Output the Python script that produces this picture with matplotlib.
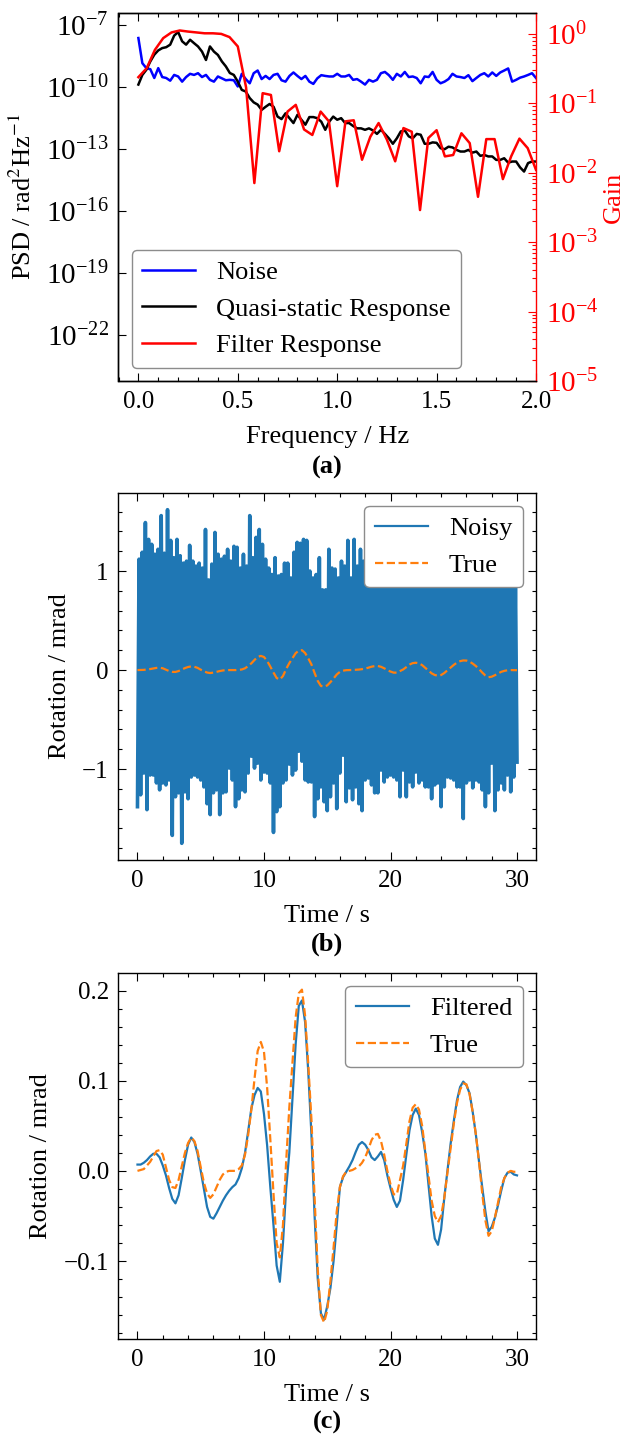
import matplotlib

matplotlib.use("Agg")
import matplotlib.pyplot as plt  # noqa: E402
import numpy as np  # noqa: E402
from matplotlib.ticker import NullLocator  # noqa: E402

# ---- (a) PSD / gain ----
freq_psd = np.round(np.arange(0, 101) * 0.02, 2)  # 0.00 .. 2.00 Hz
psd_noise = [
    2.3e-8, 1.4e-9, 8.1e-10, 7.2e-10, 2.7e-10, 8.1e-10, 3.0e-10, 2.7e-10, 2.0e-10, 3.8e-10,
    3.2e-10, 1.8e-10, 3.0e-10, 4.3e-10, 3.8e-10, 4.6e-10, 3.0e-10, 3.8e-10, 2.2e-10, 1.8e-10,
    3.2e-10, 2.6e-10, 2.1e-10, 2.2e-10, 2.1e-10, 1.05e-10, 4.3e-10, 2.4e-10, 1.5e-10, 4.6e-10,
    6.2e-10, 2.4e-10, 3.4e-10, 2.4e-10, 3.8e-10, 4.3e-10, 2.1e-10, 1.8e-10, 3.4e-10, 5.0e-10,
    3.4e-10, 2.4e-10, 3.4e-10, 1.8e-10, 1.4e-10, 2.6e-10, 3.7e-10, 3.4e-10, 3.2e-10, 3.2e-10,
    4.3e-10, 3.2e-10, 3.2e-10, 3.8e-10, 2.2e-10, 2.4e-10, 1.8e-10, 1.3e-10, 2.2e-10, 1.8e-10,
    2.2e-10, 4.6e-10, 5.3e-10, 3.7e-10, 2.2e-10, 4.3e-10, 3.2e-10, 5.3e-10, 3.0e-10, 3.2e-10,
    2.7e-10, 1.5e-10, 3.2e-10, 3.0e-10, 5.3e-10, 2.2e-10, 1.5e-10, 1.8e-10, 2.4e-10, 4.3e-10,
    3.2e-10, 3.0e-10, 2.7e-10, 3.7e-10, 1.9e-10, 2.7e-10, 3.8e-10, 4.6e-10, 3.2e-10, 5.0e-10,
    3.4e-10, 5.0e-10, 6.2e-10, 7.8e-10, 1.8e-10, 2.2e-10, 2.8e-10, 3.2e-10, 3.8e-10, 4.6e-10,
    2.7e-10,
]
psd_quasi = [
    1.3e-10, 3.8e-10, 6.7e-10, 1.7e-9, 3.6e-9, 5.8e-9, 7.5e-9, 8.3e-9, 1.1e-8, 3.0e-8,
    4.5e-8, 1.6e-8, 1.1e-8, 1.9e-8, 1.3e-8, 9.0e-9, 5.1e-9, 2.0e-9, 9.0e-9, 5.1e-9,
    3.5e-9, 1.7e-9, 9.8e-10, 4.7e-10, 3.8e-10, 1.8e-10, 7.2e-11, 6.0e-11, 2.9e-11, 1.8e-11,
    1.4e-11, 7.8e-12, 1.1e-11, 1.5e-11, 1.1e-11, 3.7e-12, 2.8e-12, 5.3e-12, 3.1e-12, 1.8e-12,
    4.5e-12, 2.6e-12, 1.5e-12, 3.5e-12, 3.5e-12, 3.1e-12, 2.1e-12, 8.5e-13, 2.1e-12, 3.7e-12,
    2.6e-12, 3.1e-12, 1.8e-12, 1.8e-12, 1.3e-12, 1.0e-12, 1.0e-12, 8.5e-13, 1.0e-12, 7.9e-13,
    5.4e-13, 8.5e-13, 5.4e-13, 3.3e-13, 1.8e-13, 3.3e-13, 7.1e-13, 7.9e-13, 4.1e-13, 3.3e-13,
    5.4e-13, 4.9e-13, 1.8e-13, 1.8e-13, 2.1e-13, 2.0e-13, 1.1e-13, 9.8e-14, 1.3e-13, 1.2e-13,
    9.1e-14, 7.6e-14, 7.6e-14, 9.1e-14, 6.7e-14, 7.6e-14, 4.7e-14, 5.2e-14, 4.4e-14, 4.4e-14,
    3.0e-14, 3.0e-14, 3.6e-14, 2.2e-14, 2.5e-14, 2.5e-14, 1.3e-14, 8.2e-15, 2.1e-14, 2.5e-14,
    2.5e-14,
]
freq_gain = np.arange(49) / 24.0  # 1/24 Hz resolution
gain = [
    0.238, 0.32, 0.59, 0.87, 1.05, 1.12, 1.08, 1.05, 1.02, 1.02,
    1.0, 0.90, 0.66, 0.17, 0.0071, 0.14, 0.132, 0.0204, 0.076, 0.095,
    0.042, 0.035, 0.076, 0.055, 0.0064, 0.055, 0.057, 0.0154, 0.033, 0.052,
    0.030, 0.0146, 0.044, 0.039, 0.0029, 0.0316, 0.041, 0.0172, 0.018, 0.037,
    0.0267, 0.0045, 0.0305, 0.0305, 0.0081, 0.0172, 0.031, 0.0226, 0.011,
]

# ---- (b) noisy record: successive upper / lower extrema of the trace ----
noisy_up = [  # t = 0.125, 0.375, ... 29.875 s
    1.12, 1.19, 1.49, 1.32, 1.27, 1.17, 1.22, 1.56, 1.18, 1.62,
    1.31, 1.135, 1.32, 1.155, 1.08, 1.10, 1.26, 1.10, 1.05, 1.08,
    1.03, 1.42, 0.91, 1.07, 1.39, 1.17, 1.12, 1.15, 1.22, 1.10,
    1.25, 1.24, 1.03, 1.17, 1.05, 1.56, 1.135, 1.34, 1.42, 1.27,
    1.12, 1.03, 0.965, 1.135, 0.95, 0.965, 1.08, 1.08, 0.93, 1.19,
    1.29, 1.28, 1.32, 1.31, 1.00, 0.93, 0.965, 1.135, 0.81, 0.81,
    1.22, 1.03, 1.02, 0.93, 1.10, 1.05, 1.31, 0.93, 1.32, 1.05,
    1.22, 1.10, 1.25, 1.05, 1.18, 1.32, 1.08, 1.12, 1.40, 1.02,
    1.15, 1.22, 1.06, 1.30, 1.10, 1.04, 1.18, 1.45, 1.12, 1.08,
    1.20, 1.03, 1.26, 1.10, 1.15, 1.35, 1.05, 1.12, 1.22, 1.08,
    1.30, 1.12, 1.02, 1.18, 1.25, 1.06, 1.14, 1.38, 1.10, 1.05,
    1.20, 1.12, 1.28, 1.04, 1.16, 1.10, 1.22, 1.06, 1.15, 0.95,
]
noisy_down = [  # t = 0, 0.25, ... 30 s
    -1.38, -1.26, -1.04, -1.41, -1.06, -1.06, -1.14, -1.21, -1.14, -1.16,
    -1.11, -1.67, -1.28, -1.24, -1.75, -1.23, -1.30, -1.08, -1.06, -1.08,
    -1.11, -1.18, -1.35, -1.46, -1.24, -1.21, -1.46, -1.24, -1.23, -0.99,
    -1.11, -1.38, -1.30, -1.21, -1.23, -1.04, -0.87, -0.99, -0.94, -1.11,
    -1.03, -1.04, -1.14, -1.64, -1.43, -1.38, -1.14, -1.11, -0.95, -1.06,
    -1.01, -0.82, -0.92, -1.11, -1.13, -1.13, -1.48, -1.30, -1.18, -1.33,
    -1.42, -1.28, -1.14, -1.40, -1.04, -0.86, -1.33, -1.19, -1.31, -1.18,
    -1.35, -1.42, -1.11, -1.09, -1.16, -1.24, -1.24, -1.01, -1.13, -1.08,
    -1.06, -1.08, -1.11, -1.28, -1.01, -1.28, -1.13, -1.18, -1.03, -1.14,
    -1.11, -1.18, -1.18, -1.30, -1.16, -1.14, -1.38, -1.18, -1.08, -1.09,
    -1.11, -1.18, -1.18, -1.50, -1.14, -1.11, -1.19, -1.11, -1.13, -1.21,
    -1.38, -1.24, -0.94, -1.42, -1.21, -1.14, -1.21, -1.06, -1.23, -1.08,
    -0.93,
]

# ---- (b)/(c) true and filtered rotation, 0.25 s steps ----
time = np.arange(121) * 0.25
rot_true = [
    0.000, 0.001, 0.002, 0.006, 0.010, 0.016, 0.022, 0.023, 0.018, 0.004,
    -0.010, -0.018, -0.019, -0.010, 0.005, 0.020, 0.031, 0.037, 0.033, 0.022,
    0.004, -0.013, -0.025, -0.030, -0.026, -0.018, -0.010, -0.004, -0.001, 0.000,
    0.000, 0.000, 0.002, 0.006, 0.018, 0.040, 0.068, 0.102, 0.133, 0.143,
    0.132, 0.092, 0.035, -0.025, -0.080, -0.096, -0.060, 0.010, 0.070, 0.120,
    0.170, 0.197, 0.201, 0.172, 0.118, 0.057, -0.030, -0.110, -0.160, -0.168,
    -0.155, -0.122, -0.085, -0.045, -0.018, -0.006, -0.001, 0.000, 0.001, 0.003,
    0.005, 0.009, 0.015, 0.024, 0.034, 0.040, 0.041, 0.033, 0.018, 0.000,
    -0.015, -0.026, -0.026, -0.010, 0.006, 0.030, 0.055, 0.070, 0.074, 0.068,
    0.050, 0.022, -0.005, -0.033, -0.050, -0.057, -0.050, -0.030, -0.002, 0.025,
    0.052, 0.075, 0.090, 0.097, 0.096, 0.085, 0.065, 0.040, 0.010, -0.025,
    -0.055, -0.072, -0.067, -0.052, -0.035, -0.018, -0.008, -0.002, 0.000, -0.001,
    -0.001,
]
rot_filtered = [
    0.007, 0.007, 0.009, 0.012, 0.016, 0.019, 0.019, 0.015, 0.006, -0.005,
    -0.019, -0.031, -0.036, -0.027, -0.008, 0.012, 0.029, 0.037, 0.032, 0.019,
    0.000, -0.020, -0.040, -0.051, -0.053, -0.047, -0.040, -0.033, -0.027, -0.022,
    -0.018, -0.015, -0.008, 0.003, 0.020, 0.044, 0.069, 0.084, 0.092, 0.088,
    0.063, 0.028, -0.018, -0.060, -0.105, -0.123, -0.080, -0.020, 0.020, 0.080,
    0.140, 0.183, 0.189, 0.165, 0.110, 0.040, -0.050, -0.120, -0.158, -0.165,
    -0.150, -0.130, -0.100, -0.060, -0.018, -0.007, -0.001, 0.005, 0.012, 0.021,
    0.029, 0.032, 0.029, 0.023, 0.015, 0.012, 0.016, 0.021, 0.012, -0.005,
    -0.019, -0.032, -0.040, -0.033, -0.010, 0.018, 0.045, 0.062, 0.069, 0.062,
    0.043, 0.020, -0.015, -0.050, -0.075, -0.082, -0.065, -0.030, 0.000, 0.030,
    0.055, 0.078, 0.093, 0.099, 0.095, 0.086, 0.065, 0.040, 0.010, -0.018,
    -0.045, -0.067, -0.062, -0.052, -0.038, -0.022, -0.008, -0.002, -0.001, -0.004,
    -0.005,
]

plt.rcParams.update({
    "font.family": "serif",
    "font.serif": ["Liberation Serif", "DejaVu Serif"],
    "mathtext.fontset": "stix",
    "font.size": 18,
    "axes.labelsize": 19,
    "legend.fontsize": 19,
    "xtick.labelsize": 18,
    "ytick.labelsize": 18,
    "xtick.direction": "in",
    "ytick.direction": "in",
    "xtick.top": True,
    "ytick.right": True,
    "xtick.minor.visible": True,
    "ytick.minor.visible": True,
    "xtick.major.size": 5.5,
    "ytick.major.size": 5.5,
    "xtick.minor.size": 3.0,
    "ytick.minor.size": 3.0,
    "xtick.major.width": 0.8,
    "ytick.major.width": 0.8,
    "xtick.minor.width": 0.8,
    "ytick.minor.width": 0.8,
    "xtick.major.pad": 7,
    "ytick.major.pad": 7,
    "xtick.minor.pad": 7,
    "ytick.minor.pad": 7,
    "axes.linewidth": 1.0,
    "legend.edgecolor": "0.55",
    "legend.framealpha": 1.0,
})

W, H = 627, 1434
fig = plt.figure(figsize=(W / 100, H / 100), dpi=100)


def axes_px(left, top, right, bottom):
    return fig.add_axes([left / W, 1 - bottom / H, (right - left) / W, (bottom - top) / H])


ax_a = axes_px(118.5, 13, 536, 381)
ax_b = axes_px(118.5, 493, 536, 860)
ax_c = axes_px(118.5, 973, 536, 1339)

# (a)
l1, = ax_a.plot(freq_psd, psd_noise, color="blue", lw=1.8, label="Noise")
l2, = ax_a.plot(freq_psd, psd_quasi, color="black", lw=1.8, label="Quasi-static Response")
ax_a.set_yscale("log")
ax_a.set_xlim(-0.1, 2.0)
ax_a.set_ylim(10 ** -24.2, 10 ** -6.43)
ax_a.set_yticks([1e-22, 1e-19, 1e-16, 1e-13, 1e-10, 1e-7])
ax_a.yaxis.set_minor_locator(NullLocator())
ax_a.tick_params(which="both", right=False)
ax_a.tick_params(axis="y", labelsize=21)
ax_a.spines["right"].set_visible(False)
ax_a.set_xlabel("Frequency / Hz", labelpad=9.5)
ax_a.set_ylabel("PSD / rad$^2$Hz$^{-1}$", labelpad=7)

tw = ax_a.twinx()
l3, = tw.plot(freq_gain, gain, color="red", lw=1.8, label="Filter Response")
tw.set_yscale("log")
tw.set_ylim(1e-5, 2.0)
tw.set_xlim(-0.1, 2.0)
tw.tick_params(axis="y", which="both", colors="red", direction="in", left=False,
               labelsize=21)
tw.tick_params(axis="x", which="both", top=False, bottom=False)
tw.spines["right"].set_color("red")
tw.set_ylabel("Gain", color="red", labelpad=3)
tw.legend(handles=[l1, l2, l3], loc="lower left", fancybox=True)

# (b)
t_noisy = np.arange(241) * 0.125
noisy = np.empty(241)
noisy[0::2] = noisy_down
noisy[1::2] = noisy_up
ax_b.plot(t_noisy, noisy, color="tab:blue", lw=2.6, label="Noisy")
ax_b.plot(time, rot_true, color="tab:orange", lw=1.6, ls="--", label="True")
ax_b.set_xlabel("Time / s", labelpad=9.5)
ax_b.set_ylabel("Rotation / mrad", labelpad=8)
leg_b = ax_b.legend(loc="upper right")
leg_b.legend_handles[0].set_linewidth(1.6)

# (c)
ax_c.plot(time, rot_filtered, color="tab:blue", lw=1.6, label="Filtered")
ax_c.plot(time, rot_true, color="tab:orange", lw=1.6, ls="--", label="True")
ax_c.set_xlabel("Time / s", labelpad=9.5)
ax_c.set_ylabel("Rotation / mrad", labelpad=8)
ax_c.legend(loc="upper right")

for lab, yc in (("(a)", 467), ("(b)", 944), ("(c)", 1422)):
    fig.text(327 / W, 1 - yc / H, lab, ha="center", va="center",
             fontsize=19, fontweight="bold")

fig.savefig("out.png", dpi=100)
